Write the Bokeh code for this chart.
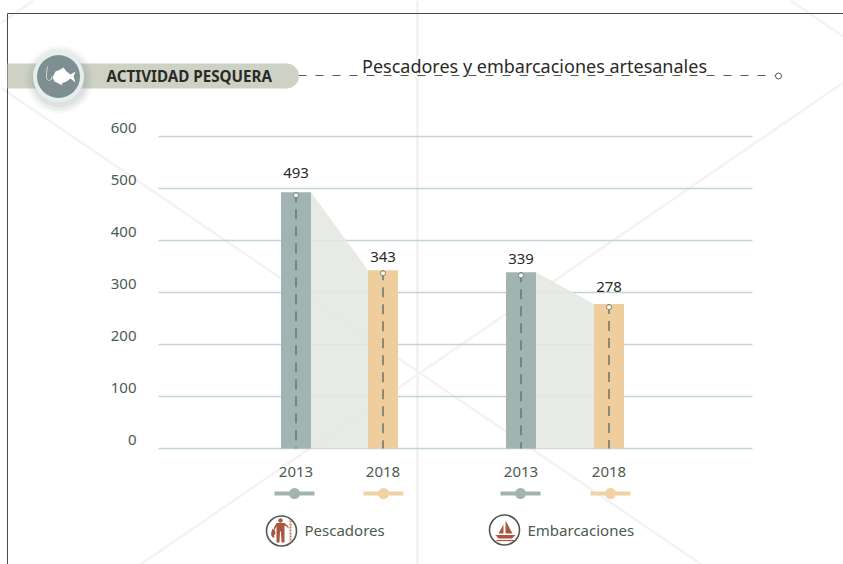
from bokeh.plotting import figure
from bokeh.models import Range1d, LinearAxis, FixedTicker
from bokeh.core.properties import value
from bokeh.embed import file_html
from bokeh.resources import INLINE

# ---- data
groups = ["Pescadores", "Embarcaciones"]
years = ["2013", "2018", "2013", "2018"]
values = [493, 343, 339, 278]
y_ticks = [0, 100, 200, 300, 400, 500, 600]
title = "Pescadores y embarcaciones artesanales"
section = "ACTIVIDAD PESQUERA"

# ---- layout (page pixels) and style
X = [295.5, 382.5, 520.5, 608.5]
BAR_W = 30
LEG_X = [294, 383, 520, 610]
COL = ["#a0b4b2", "#efce9d", "#a0b4b2", "#efce9d"]
LEG_COL = ["#a0b4b2", "#f0d2a5", "#a0b4b2", "#f0d2a5"]
LABEL_OFF = [19.5, 13, 13, 16.5]
FONT = "Noto Sans"
INK = "#4d5a4f"
DARK = "#2c2a26"
RUST = "#a9573f"
PX_PER_UNIT = 0.52
BASE = 448
LABEL_LIFT = 8.5

W, H = 843, 564
p = figure(width=W, height=H, output_backend="svg", toolbar_location=None,
           x_range=Range1d(0, W),
           y_range=Range1d((BASE - H) / PX_PER_UNIT, BASE / PX_PER_UNIT),
           x_axis_location=None, y_axis_location=None, min_border=0,
           outline_line_color=None, background_fill_color="white")
p.extra_y_ranges = {
    "px": Range1d(H, 0),
    "ticklabels": Range1d((BASE - LABEL_LIFT - H) / PX_PER_UNIT, (BASE - LABEL_LIFT) / PX_PER_UNIT),
}
p.xgrid.visible = False
p.ygrid.visible = False
PX = dict(y_range_name="px")


def py(v):
    return BASE - v * PX_PER_UNIT


# faint background watermark
wm = "#f3f3f3"
p.segment([417], [0], [417], [564], line_color=wm, line_width=3, **PX)
p.multi_line([[0, 701], [843, 140], [790, 843], [0, 33]],
             [[87, 564], [82, 564], [0, 36], [23, 0]], line_color=wm, line_width=2.5, **PX)

# frame
p.segment([7, 7], [13, 13], [843, 7], [13, 564], line_color="#4a4d42", line_width=1, **PX)

# horizontal rules
p.segment([158] * len(y_ticks), y_ticks, [752] * len(y_ticks), y_ticks,
          line_color="#c3d5d1", line_width=1.6)

# shaded slopes between the paired bars
for i in (0, 2):
    xa = X[i] + BAR_W / 2
    xb = X[i + 1] - BAR_W / 2
    p.patch([xa, xb, xb, xa], [values[i], values[i + 1], 0, 0],
            fill_color="#e6e8e2", fill_alpha=0.9, line_color=None)

# bars
p.vbar(x=X, top=values, bottom=0, width=BAR_W, fill_color=COL, line_color=None)

# dashed centre lines and markers
p.segment(X, values, X, [0] * 4, line_color="#6f7a70", line_width=1.6, line_dash="10 7")
p.scatter(X, [py(v) + 3.2 for v in values], size=5, marker="circle", fill_color="white",
          line_color="#5f6a60", line_width=0.8, **PX)

# value labels
p.text(X, [py(v) - o for v, o in zip(values, LABEL_OFF)], text=[str(v) for v in values],
       text_font=value(FONT), text_font_size="15px", text_color=DARK,
       text_align="center", text_baseline="middle", **PX)

# axes
ya = LinearAxis(ticker=FixedTicker(ticks=y_ticks), fixed_location=158, y_range_name="ticklabels",
                axis_line_color=None, major_tick_line_color=None, minor_tick_line_color=None,
                major_label_standoff=16, major_label_text_font=FONT,
                major_label_text_font_size="15px", major_label_text_color=INK)
p.add_layout(ya, "left")
xa_ = LinearAxis(ticker=FixedTicker(ticks=X), fixed_location=0,
                 major_label_overrides={x: y for x, y in zip(X, years)},
                 axis_line_color=None, major_tick_line_color=None, minor_tick_line_color=None,
                 major_label_standoff=12, major_label_text_font=FONT,
                 major_label_text_font_size="15px", major_label_text_color=INK)
p.add_layout(xa_, "below")

# year keys
for x, c in zip(LEG_X, LEG_COL):
    p.segment([x - 20], [493], [x + 20], [493], line_color=c, line_width=4, **PX)
    p.circle([x], [493], radius=5.5, fill_color=c, line_color=None, **PX)

# header
p.segment([298], [75], [775], [75], line_color="#555a50", line_width=1, line_dash="8 9", **PX)
p.circle([778], [75.5], radius=3, fill_color="white", line_color="#555a50", line_width=1, **PX)
p.quad(left=[7], right=[286], top=[63], bottom=[88], fill_color="#cdd2c5", line_color=None, **PX)
p.circle([286], [75.5], radius=12.5, fill_color="#cdd2c5", line_color=None, **PX)
for r, a in zip([34, 31, 28], [0.05, 0.07, 0.09]):
    p.circle([59], [79], radius=r, fill_color="#6a7272", fill_alpha=a, line_color=None, **PX)
p.circle([58], [76], radius=25.5, fill_color="#e3efee", line_color=None, **PX)
p.circle([58], [76], radius=21.5, fill_color="#7e8f91", line_color=None, **PX)
# fish + hook
p.patch([52, 55, 60, 63, 66, 70, 75, 73, 75, 70, 66, 61, 62, 58, 54],
        [77, 71, 69, 67, 71, 74, 71, 76, 82, 78, 81, 83, 85, 83, 81],
        fill_color="white", line_color=None, **PX)
p.line([47, 46, 46, 48, 51, 51], [66, 72, 78, 80, 79, 76], line_color="#dfe7e6", line_width=0.8, **PX)

p.text([106], [75.5], text=[section], text_font=value(FONT), text_font_size="15.2px",
       text_font_style="bold", text_color=DARK, text_baseline="middle", **PX)
p.text([361.5], [65], text=[title], text_font=value(FONT), text_font_size="18px",
       text_color=DARK, text_baseline="middle", **PX)

# series legend: fisher icon
p.circle([281], [530.5], radius=15, fill_color="white", line_color=INK, line_width=1.6, **PX)
p.circle([280], [520], radius=2.2, fill_color=RUST, line_color=None, **PX)
p.patch([273.5, 276, 284, 288, 288, 286, 284, 284, 281, 280.5, 279.5, 279, 276, 276, 275.5, 273.5],
        [527, 522.5, 522.5, 526, 528, 526, 525, 542, 542, 531, 531, 542, 542, 525, 527, 530],
        fill_color=RUST, line_color=None, **PX)
p.patch([272, 274.5, 275, 273.5, 274, 272, 270.5, 271],
        [528, 530, 533, 535, 537, 537, 534, 531], fill_color=RUST, line_color=None, **PX)
p.line([290, 290], [520, 542], line_color="#c27f63", line_width=2, line_dash="2 1", **PX)
p.text([304], [529], text=[groups[0]], text_font=value(FONT), text_font_size="15px",
       text_color=INK, text_baseline="middle", **PX)

# series legend: boat icon
p.circle([504], [529.5], radius=15, fill_color="white", line_color=INK, line_width=1.6, **PX)
p.patch([503, 503, 498], [524, 533, 533], fill_color=RUST, line_color=None, **PX)
p.patch([505, 505, 512], [520, 533, 533], fill_color=RUST, line_color=None, **PX)
p.patch([495, 515, 511.5, 498], [534.5, 534.5, 538, 538], fill_color=RUST, line_color=None, **PX)
p.segment([496], [540], [514], [540], line_color=RUST, line_width=1.2, **PX)
p.text([527], [529], text=[groups[1]], text_font=value(FONT), text_font_size="15px",
       text_color=INK, text_baseline="middle", **PX)

open("out.html", "w").write(file_html(p, INLINE))
